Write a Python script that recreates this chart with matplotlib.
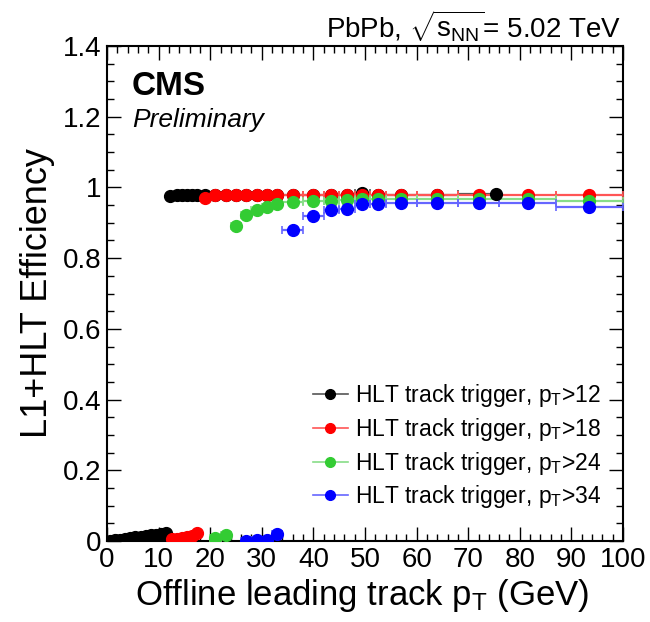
import numpy as np
import matplotlib
matplotlib.use("Agg")
import matplotlib.pyplot as plt
from matplotlib.lines import Line2D
from matplotlib.ticker import MultipleLocator, FormatStrFormatter

plt.rcParams['font.family'] = ['Liberation Sans', 'DejaVu Sans']
plt.rcParams['mathtext.fontset'] = 'custom'
plt.rcParams['mathtext.rm'] = 'Liberation Sans'
plt.rcParams['mathtext.it'] = 'Liberation Sans:italic'

# bin edges of the efficiency histograms (GeV)
bin_edges = [0, 1, 2, 3, 4, 5, 6, 7, 8, 9, 10, 11, 12, 13, 14, 15, 16, 17, 18,
             20, 22, 24, 26, 28, 30, 32, 34, 38, 42, 45, 48, 51, 54, 60, 68, 76, 87, 100]

# pT > 12
pt12_x = [0.5, 1.5, 2.5, 3.5, 4.5, 5.5, 6.5, 7.5, 8.5, 9.5, 10.5, 11.5,
          12.3, 13.5, 14.5, 15.5, 16.5, 17.4,
          19, 21, 23, 25, 27, 29, 31, 33, 36, 40, 43.5, 46.5, 49.5, 52.5, 57, 64, 75.3]
pt12_eff = [0.001, 0.002, 0.004, 0.006, 0.008, 0.010, 0.012, 0.014, 0.016, 0.017, 0.019, 0.022,
            0.975, 0.978, 0.979, 0.979, 0.979, 0.979,
            0.978, 0.978, 0.978, 0.978, 0.978, 0.978, 0.978, 0.978,
            0.978, 0.978, 0.978, 0.979, 0.983, 0.979, 0.978, 0.978, 0.981]

# pT > 18
pt18_x = [12.5, 13.5, 14.5, 15.5, 16.5, 17.5,
          19, 21, 23, 25, 27, 29, 31, 33, 36, 40, 43.5, 46.5, 49.5, 52.5, 57, 64, 72, 81.5, 93.5]
pt18_eff = [0.005, 0.005, 0.008, 0.010, 0.013, 0.022,
            0.971, 0.978, 0.978, 0.978, 0.978, 0.978, 0.978, 0.978,
            0.978, 0.978, 0.978, 0.978, 0.978, 0.978, 0.978, 0.978, 0.978, 0.978, 0.978]

# pT > 24
pt24_x = [21, 23, 25, 27, 29, 31, 33, 36, 40, 43.5, 46.5, 49.5, 52.5, 57, 64, 72, 81.5, 93.5]
pt24_eff = [0.008, 0.017, 0.890, 0.923, 0.937, 0.946, 0.954, 0.960, 0.961,
            0.963, 0.965, 0.967, 0.968, 0.968, 0.968, 0.968, 0.966, 0.961]

# pT > 34
pt34_x = [27, 29, 31, 33, 36, 40, 43.5, 46.5, 49.5, 52.5, 57, 64, 72, 81.5, 93.5]
pt34_eff = [0.001, 0.003, 0.003, 0.019, 0.879, 0.919, 0.937, 0.940, 0.952,
            0.952, 0.955, 0.955, 0.955, 0.955, 0.945]

labels = ["HLT track trigger, $\\mathrm{p}_{\\mathrm{T}}$>12",
          "HLT track trigger, $\\mathrm{p}_{\\mathrm{T}}$>18",
          "HLT track trigger, $\\mathrm{p}_{\\mathrm{T}}$>24",
          "HLT track trigger, $\\mathrm{p}_{\\mathrm{T}}$>34"]
colors = ["black", "#ff0000", "#33cc33", "#0000ff"]
line_colors = ["#555555", "#ff5555", "#88dd88", "#6666ff"]


def bin_errors(xs):
    edges = np.array(bin_edges, dtype=float)
    xs = np.array(xs, dtype=float)
    idx = np.searchsorted(edges, xs, side="right") - 1
    return np.vstack([xs - edges[idx], edges[idx + 1] - xs])


fig = plt.figure(figsize=(6.5, 6.22), dpi=100)
ax = fig.add_axes([107 / 650, 1 - 541 / 622, 516 / 650, 495 / 622])

series = [(pt12_x, pt12_eff), (pt18_x, pt18_eff), (pt24_x, pt24_eff), (pt34_x, pt34_eff)]
for (xs, ys), c, lc in zip(series, colors, line_colors):
    ax.errorbar(xs, ys, xerr=bin_errors(xs), fmt="o", color=c, ms=8.5, mec=c,
                ecolor=lc, elinewidth=1.6, capsize=3, capthick=1.2, zorder=3)

ax.set_xlim(0, 100)
ax.set_ylim(0, 1.4)
ax.xaxis.set_major_locator(MultipleLocator(10))
ax.xaxis.set_minor_locator(MultipleLocator(2))
ax.yaxis.set_major_locator(MultipleLocator(0.2))
ax.yaxis.set_minor_locator(MultipleLocator(0.05))
ax.yaxis.set_major_formatter(FormatStrFormatter("%g"))
ax.tick_params(which="both", direction="in", top=True, right=True, labelsize=20, width=1)
ax.tick_params(which="major", length=10, pad=4)
ax.tick_params(which="minor", length=5)
for s in ax.spines.values():
    s.set_linewidth(1.5)

handles = [Line2D([], [], color=lc, marker="o", ms=7, mfc=c, mec=c, lw=1.2)
           for c, lc in zip(colors, line_colors)]
ax.legend(handles, labels, loc="upper left", bbox_to_anchor=(0.382, 0.34),
          frameon=False, fontsize=16.5, handlelength=1.5, handletextpad=0.3,
          labelspacing=0.3, borderaxespad=0)

ax.text(4.8, 1.261, "CMS", fontsize=24, fontweight="bold", va="baseline")
ax.text(4.8, 1.172, "Preliminary", fontsize=19, fontstyle="italic", va="baseline")

fig.text(621 / 650, 1 - 37 / 622, "PbPb, $\\sqrt{\\mathrm{s}_{\\mathrm{NN}}}$= 5.02 TeV",
         fontsize=20, ha="right", va="baseline")
fig.text(38 / 650, 1 - 293.5 / 622, "L1+HLT Efficiency", fontsize=26,
         rotation=90, ha="center", va="center")
fig.text(362 / 650, 1 - 605 / 622, "Offline leading track $\\mathrm{p}_{\\mathrm{T}}$ (GeV)",
         fontsize=25, ha="center", va="baseline")

fig.savefig("out.png", dpi=100)
